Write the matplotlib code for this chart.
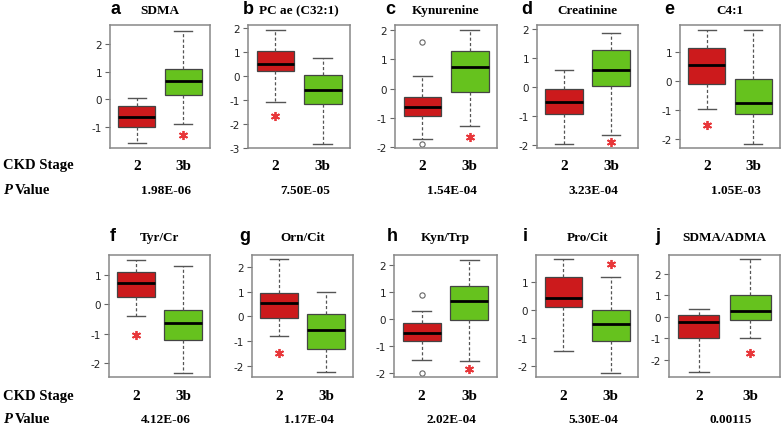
import numpy as np
import matplotlib
import matplotlib.pyplot as plt
from matplotlib.ticker import MultipleLocator
from matplotlib.transforms import blended_transform_factory

plt.rcParams['axes.unicode_minus'] = False

# ===============================
# Data
# ===============================
letters = ['a', 'b', 'c', 'd', 'e', 'f', 'g', 'h', 'i', 'j']
titles = ['SDMA', 'PC ae (C32:1)', 'Kynurenine', 'Creatinine', 'C4:1',
          'Tyr/Cr', 'Orn/Cit', 'Kyn/Trp', 'Pro/Cit', 'SDMA/ADMA']
p_values = ['1.98E-06', '7.50E-05', '1.54E-04', '3.23E-04', '1.05E-03',
            '4.12E-06', '1.17E-04', '2.02E-04', '5.30E-04', '0.00115']
stages = ['2', '3b']

# CKD stage 2 (red)
s2_low = [-1.56, -1.09, -1.73, -1.99, -0.98, -0.40, -0.81, -1.54, -1.46, -2.58]
s2_q1 = [-0.98, 0.20, -0.92, -0.93, -0.11, 0.24, -0.07, -0.83, 0.11, -0.99]
s2_med = [-0.64, 0.49, -0.64, -0.51, 0.55, 0.71, 0.54, -0.53, 0.43, -0.23]
s2_q3 = [-0.22, 1.05, -0.29, -0.06, 1.14, 1.10, 0.95, -0.16, 1.18, 0.09]
s2_high = [0.06, 1.93, 0.43, 0.57, 1.79, 1.51, 2.30, 0.29, 1.80, 0.37]
s2_out = [[], [], [1.59, -1.87], [], [], [], [], [0.91, -2.00], [], []]

# CKD stage 3b (green)
s3_low = [-0.89, -2.83, -1.28, -1.68, -2.20, -2.33, -2.25, -1.58, -2.24, -1.00]
s3_q1 = [0.15, -1.16, -0.11, 0.03, -1.13, -1.22, -1.30, -0.03, -1.11, -0.17]
s3_med = [0.65, -0.56, 0.74, 0.57, -0.76, -0.65, -0.56, 0.66, -0.52, 0.26]
s3_q3 = [1.11, 0.06, 1.29, 1.27, 0.08, -0.20, 0.09, 1.23, -0.01, 1.02]
s3_high = [2.44, 0.78, 2.00, 1.86, 1.76, 1.28, 0.99, 2.22, 1.17, 2.66]
s3_out = [[], [], [], [], [], [], [], [], [], []]

# red asterisk: which group it sits under and its height
star_group = [2, 1, 2, 2, 1, 1, 1, 2, 2, 2]
star_y = [-1.27, -1.68, -1.65, -1.90, -1.53, -1.06, -1.49, -1.86, 1.62, -1.67]

y_limits = [(-1.74, 2.67), (-3.0, 2.14), (-2.02, 2.17), (-2.12, 2.14), (-2.33, 1.95),
            (-2.47, 1.67), (-2.44, 2.47), (-2.16, 2.39), (-2.4, 1.95), (-2.8, 2.86)]

# ===============================
# Layout (pixels)
# ===============================
W, H = 783, 427
axes_px = [(110, 26, 210, 149), (248, 26, 350, 149), (395, 26, 497, 149),
           (537, 26, 638, 149), (680, 26, 780, 149),
           (109, 256, 210, 378), (252, 256, 353, 378), (394, 256, 497, 378),
           (536, 256, 638, 378), (669, 256, 780, 378)]
letter_x = [110, 243, 385, 521, 664, 110, 239, 387, 523, 655]

RED = '#cc1a1c'
GREEN = '#66c21e'
STAR = '#e8373a'

serif = 'Liberation Serif'
sans = 'Liberation Sans'

fig = plt.figure(figsize=(W / 100, H / 100), dpi=100)


def fy(y):
    return 1 - y / H


for i in range(10):
    x0, y0, x1, y1 = axes_px[i]
    ax = fig.add_axes([x0 / W, 1 - y1 / H, (x1 - x0) / W, (y1 - y0) / H])

    stats = [
        dict(whislo=s2_low[i], q1=s2_q1[i], med=s2_med[i], q3=s2_q3[i],
             whishi=s2_high[i], fliers=np.array(s2_out[i])),
        dict(whislo=s3_low[i], q1=s3_q1[i], med=s3_med[i], q3=s3_q3[i],
             whishi=s3_high[i], fliers=np.array(s3_out[i])),
    ]
    bp = ax.bxp(stats, positions=[1, 2], widths=0.8, patch_artist=True,
                showfliers=True,
                boxprops=dict(edgecolor='#444444', linewidth=0.9),
                medianprops=dict(color='black', linewidth=2.0),
                whiskerprops=dict(color='#555555', linewidth=0.9, linestyle=(0, (2.5, 1.8))),
                capprops=dict(color='#555555', linewidth=1.0),
                flierprops=dict(marker='o', markerfacecolor='none',
                                markeredgecolor='#666666', markersize=3.8,
                                markeredgewidth=0.8))
    bp['boxes'][0].set_facecolor(RED)
    bp['boxes'][1].set_facecolor(GREEN)

    ax.plot(star_group[i], star_y[i], marker=(6, 2, 0), color=STAR,
            markersize=6.5, markeredgewidth=1.3, linestyle='none', clip_on=False)

    ax.set_xlim(0.42, 2.58)
    ax.set_ylim(*y_limits[i])
    ax.set_xticks([])
    ax.yaxis.set_major_locator(MultipleLocator(1))
    ax.tick_params(axis='y', length=3.5, width=0.8, color='#666666',
                   labelsize=7.5, labelcolor='#222222', pad=2)
    for sp in ax.spines.values():
        sp.set_color('#888888')
        sp.set_linewidth(1.1)

    cx = (x0 + x1) / 2 / W
    if i < 5:
        title_y, stage_y, p_y = 11, 166, 191
    else:
        title_y, stage_y, p_y = 238, 397, 420

    fig.text(letter_x[i] / W, fy(title_y - 1), letters[i], fontsize=13,
             fontweight='bold', family=sans, ha='left', va='center')
    fig.text(cx, fy(title_y), titles[i], fontsize=9.5, fontweight='bold',
             family=serif, ha='center', va='center')

    trans = blended_transform_factory(ax.transData, fig.transFigure)
    for k, st in enumerate(stages):
        ax.text(k + 1, fy(stage_y), st, transform=trans, fontsize=11,
                fontweight='bold', family=serif, ha='center', va='center')
    fig.text(cx + 6 / W, fy(p_y), p_values[i], fontsize=9.5, fontweight='bold',
             family=serif, ha='center', va='center')

# row labels
for stage_y, p_y in [(166, 191), (397, 420)]:
    fig.text(3 / W, fy(stage_y), 'CKD Stage', fontsize=10.5, fontweight='bold',
             family=serif, ha='left', va='center')
    fig.text(3 / W, fy(p_y), 'P', fontsize=10.5, fontweight='bold',
             fontstyle='italic', family=serif, ha='left', va='center')
    fig.text(15 / W, fy(p_y), 'Value', fontsize=10.5, fontweight='bold',
             family=serif, ha='left', va='center')

fig.savefig('out.png', dpi=100)
